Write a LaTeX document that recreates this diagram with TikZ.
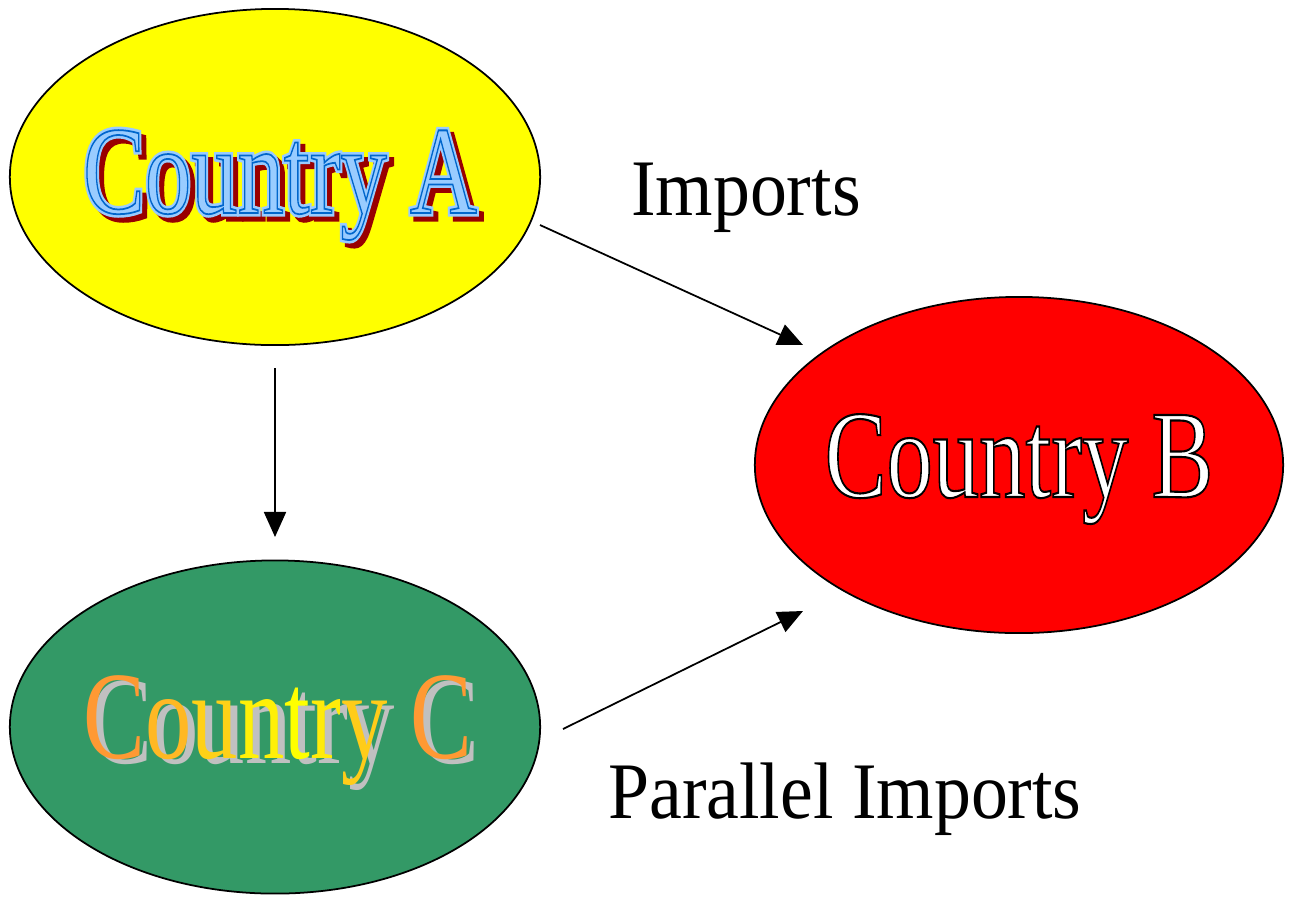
\documentclass[tikz,border=0pt]{standalone}
\usepackage{fontspec}
\setmainfont{Liberation Serif}
\usetikzlibrary{shapes.geometric,arrows.meta}
\definecolor{cyel}{HTML}{FFFF00}
\definecolor{cred}{HTML}{FF0000}
\definecolor{cgreen}{HTML}{339966}
\definecolor{clblue}{HTML}{99CCFF}
\definecolor{cdred}{HTML}{990000}
\definecolor{corange}{HTML}{FF9933}
\definecolor{cgray}{HTML}{C0C0C0}
\newcommand\rtext[4]{\special{pdf:literal direct #1 Tr #2 w #3 RG}#4\special{pdf:literal direct 0 Tr 0.4 w 0 0 0 RG}}
\tikzset{
  country/.style={ellipse, draw=black, line width=0.5pt, inner sep=0pt},
  big/.style={anchor=base, inner sep=0pt, font=\fontsize{35.6}{40}\selectfont},
  lbl/.style={anchor=base, inner sep=0pt, font=\fontsize{22.8}{26}\selectfont},
  arr/.style={line width=0.5pt, -{Triangle[length=0.25cm,width=0.22cm]}}
}
\begin{document}
\begin{tikzpicture}[x=0.01cm,y=-0.01cm]
\useasboundingbox (0,0) rectangle (1293,896);
% ellipses
\node[country, fill=cyel, minimum width=5.30cm, minimum height=3.36cm] (A) at (275,177) {};
\node[country, fill=cred, minimum width=5.28cm, minimum height=3.36cm] (B) at (1019,465) {};
\node[country, fill=cgreen, minimum width=5.30cm, minimum height=3.33cm] (C) at (275,727) {};
% Country A text
\node[big, text=cdred] (Ash) at (285,218) {\scalebox{0.74}[1]{\rtext{2}{2}{0.6 0 0}{Country A}}};
\node[big, text=clblue] (Atx) at (280,213) {\scalebox{0.74}[1]{\rtext{2}{2}{0.6 0.8 1}{Country A}}};
\node[big, text=clblue] (Aln) at (280,213) {\scalebox{0.74}[1]{\rtext{1}{0.5}{0 0.4 0.8}{Country A}}};
% Country B text
\node[big, text=white] (Btx) at (1019,497) {\scalebox{0.74}[1]{\rtext{2}{0.6}{0 0 0}{Country B}}};
% Country C text
\node[big, text=cgray] (Csh) at (285,763) {\scalebox{0.74}[1]{Country C}};
\node[big] (Ctx) at (278,758) {\scalebox{0.74}[1]{{\color{corange}C}{\color{cyel!30!corange}o}{\color{cyel!55!corange}u}{\color{cyel!85!corange}n}{\color{cyel}t}{\color{cyel!80!corange}r}{\color{cyel!50!corange}y} {\color{corange}C}}};
% labels
\node[lbl] (imp) at (746,215) {\scalebox{0.92}[1]{Imports}};
\node[lbl] (pimp) at (845,818) {\scalebox{0.92}[1]{Parallel Imports}};
% connectors
\coordinate (a1) at (540,225);
\coordinate (a2) at (803,345);
\coordinate (c1) at (275,368);
\coordinate (c2) at (275,537);
\coordinate (d1) at (563,729);
\coordinate (d2) at (803,611);
\draw[arr] (a1) -- (a2);
\draw[arr] (c1) -- (c2);
\draw[arr] (d1) -- (d2);
\end{tikzpicture}
\end{document}
